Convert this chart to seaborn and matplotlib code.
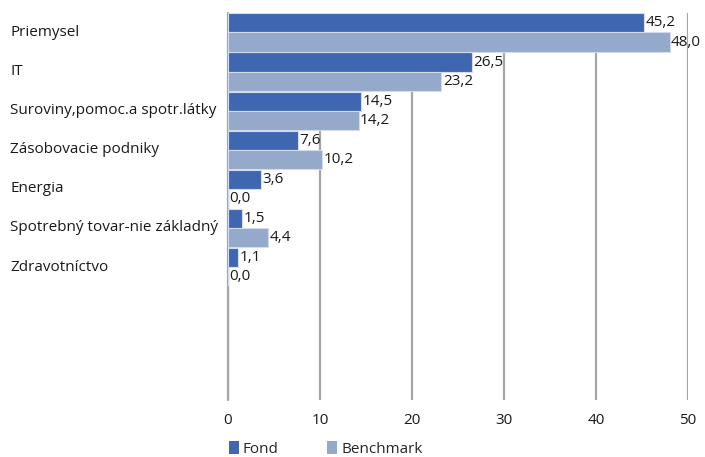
import matplotlib
matplotlib.use("Agg")
import matplotlib.pyplot as plt
import seaborn as sns
import pandas as pd
from matplotlib.transforms import blended_transform_factory
from matplotlib.patches import Patch

# data
sectors = ["Priemysel", "IT", "Suroviny,pomoc.a spotr.látky", "Zásobovacie podniky",
           "Energia", "Spotrebný tovar-nie základný", "Zdravotníctvo"]
fond = [45.2, 26.5, 14.5, 7.6, 3.6, 1.5, 1.1]
benchmark = [48.0, 23.2, 14.2, 10.2, 0.0, 4.4, 0.0]
series = ["Fond", "Benchmark"]
x_ticks = [0, 10, 20, 30, 40, 50]

df = pd.DataFrame({
    "sector": sectors * 2,
    "value": fond + benchmark,
    "series": [series[0]] * len(sectors) + [series[1]] * len(sectors),
})

sns.set_theme(style="white")
plt.rcParams["font.family"] = ["Open Sans", "DejaVu Sans"]
fs = 11

colors = {"Fond": "#3F67B1", "Benchmark": "#95A9CB"}

fig = plt.figure(figsize=(7.05, 4.57), dpi=100)
ax = fig.add_axes([0.3234, 0.1247, 0.6525, 0.847])

sns.barplot(data=df, x="value", y="sector", hue="series", orient="h",
            palette=colors, saturation=1, width=0.98, edgecolor="#D3DCEC",
            linewidth=0.8, legend=False, ax=ax, zorder=3)

for cont in ax.containers:
    labels = [f"{v:.1f}".replace(".", ",") for v in cont.datavalues]
    ax.bar_label(cont, labels=labels, padding=1, fontsize=fs, color="#1a1a1a")

ax.set_xlim(0, 50)
ax.set_xticks(x_ticks)
ax.set_xticklabels([str(t) for t in x_ticks], fontsize=fs, color="#1a1a1a")
ax.set_ylim(9.4, -0.5)
ax.set_yticks([])
ax.set_xlabel("")
ax.set_ylabel("")
ax.grid(axis="x", color="#A6A6A6", linewidth=1.6, zorder=0)
ax.axvline(0, color="#A6A6A6", linewidth=1.6, zorder=1, clip_on=False)
ax.tick_params(axis="x", length=0, pad=9)
for s in ax.spines.values():
    s.set_visible(False)

# category labels left aligned at the figure edge
tr = blended_transform_factory(fig.transFigure, ax.transData)
for i, name in enumerate(sectors):
    ax.text(10 / 705, i, name, transform=tr, ha="left", va="center",
            fontsize=fs, color="#1a1a1a")

handles = [Patch(facecolor=colors[s], edgecolor="none") for s in series]
fig.legend(handles, series, loc="lower left", bbox_to_anchor=(0.305, -0.03),
           ncol=2, frameon=False, fontsize=fs, handlelength=0.65,
           handleheight=0.9, handletextpad=0.25, columnspacing=3.2)

fig.savefig("out.png", dpi=100)
